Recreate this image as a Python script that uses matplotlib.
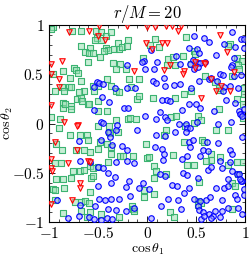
import matplotlib
matplotlib.use("Agg")
import matplotlib.pyplot as plt
import numpy as np

plt.rcParams['mathtext.fontset'] = 'cm'
plt.rcParams['font.family'] = 'DejaVu Serif'

# cos(theta1), cos(theta2) for three populations
red_x = [-0.49, -0.21, 0.00, 0.08, 0.19, 0.25, 0.34, -0.80, -0.59, -0.50, 0.31, 0.74, -0.43, -0.01, 0.15, 0.20,
         0.05, 0.81, -0.87, -0.98, -0.98, 0.58, 0.49, -0.14, 0.17, 0.23, 0.37, 0.36, 0.49, 0.59, 0.88, -0.90, 0.65,
         -0.90, 0.75, 0.70, 0.84, 0.55, -0.98, -0.85, -0.71, -0.72,
         -0.94, -0.72, -0.98, -0.81, -0.60, -0.58, -0.98, -0.97, -0.68, -0.69, -0.77, -0.98]
red_y = [0.99, 0.99, 0.98, 0.98, 0.99, 0.99, 0.99, 0.93, 0.94, 0.89, 0.94, 0.90, 0.85, 0.82, 0.82, 0.82,
         0.76, 0.73, 0.64, 0.60, 0.50, 0.61, 0.62, 0.53, 0.54, 0.59, 0.53, 0.50, 0.56, 0.60, 0.52, 0.45, 0.45,
         0.37, 0.38, 0.33, 0.33, 0.26, 0.19, 0.02, -0.01, -0.03,
         -0.19, -0.27, -0.36, -0.40, -0.38, -0.39, -0.45, -0.48, -0.60, -0.66, -0.78, -0.82]

green_x = [-0.96, -0.98, -0.77, -0.67, -0.52, -0.47, -0.42, -0.37, -0.51, -0.53, -0.47, -0.30, -0.20, 0.08, 0.39,
           -0.67, -0.58, -0.63, -0.42, -0.40, -0.34, -0.29, -0.26, -0.21, 0.03, 0.12, 0.48, 0.49, 0.84, 0.82,
           -0.59, -0.55, -0.48, -0.44, -0.60, -0.35, -0.28, -0.32, -0.22, -0.04, 0.21, 0.26, 0.36, 0.20, 0.28,
           0.45, 0.91, 0.97, 0.92, 0.93, -0.96, -0.86, -0.75, -0.73, -0.71, -0.79, -0.67, -0.41, -0.19, -0.08,
           0.59, 0.86, 0.69, -0.87, -0.80, -0.78, -0.64, -0.70, -0.55, -0.54, -0.50, -0.37, -0.32, -0.29, -0.17,
           -0.94, -0.85, -0.86, -0.86, -0.84, -0.78, -0.78, -0.72, -0.67, -0.66, -0.60, -0.59, -0.50, -0.10,
           -0.08, 0.06, 0.28, 0.37, 0.45, 0.74, 0.73, 0.91, 0.99, 0.99, 0.98, 0.73, 0.98, -0.98, -0.89, -0.50,
           -0.41, -0.32, -0.20, -0.18, -0.11, 0.24, 0.52, 0.29, 0.55, 0.48, -0.50, -0.39, 0.38,
           -0.90, -0.79, -0.68, -0.61, -0.39, -0.30, -0.38, 0.19, 0.17, 0.70, 0.82, -0.93, -0.60, -0.48, -0.41,
           -0.37, -0.01, 0.37, 0.56, 0.58, -0.87, -0.73, -0.64, -0.58, -0.50, -0.37, -0.28, -0.25, -0.15, 0.00,
           0.02, 0.26, 0.65, 0.74, 0.65, 0.60, -0.94, -0.88, -0.76, -0.69, -0.64, -0.58, -0.55, -0.50, -0.40,
           0.07, 0.09, 0.19, 0.40, 0.48, 0.82, 0.91, 0.98, -0.93, -0.86, -0.78, -0.57, -0.55, 0.07, 0.53, 0.86,
           0.89, 0.92, -0.96, -0.85, -0.94, -0.58, -0.03, 0.07, -0.03, -0.94, -0.74, -0.67, -0.63, -0.59, -0.16,
           -0.15, -0.13, 0.23, 0.52, 0.55, -0.86, -0.67, -0.58, -0.47, -0.29, -0.61, 0.27, 0.86, 0.52]
green_y = [0.98, 0.96, 0.94, 0.94, 0.94, 0.93, 0.89, 0.93, 0.87, 0.85, 0.85, 0.82, 0.85, 0.86, 0.88,
           0.79, 0.77, 0.73, 0.77, 0.75, 0.76, 0.76, 0.78, 0.79, 0.80, 0.78, 0.74, 0.71, 0.81, 0.79,
           0.72, 0.72, 0.68, 0.74, 0.63, 0.61, 0.60, 0.55, 0.55, 0.67, 0.66, 0.68, 0.69, 0.59, 0.59,
           0.60, 0.67, 0.64, 0.59, 0.55, 0.50, 0.53, 0.56, 0.54, 0.51, 0.46, 0.43, 0.45, 0.45, 0.45,
           0.48, 0.48, 0.42, 0.37, 0.37, 0.37, 0.33, 0.32, 0.38, 0.33, 0.38, 0.38, 0.33, 0.32, 0.37,
           0.33, 0.33, 0.21, 0.16, 0.20, 0.18, 0.15, 0.25, 0.26, 0.23, 0.20, 0.20, 0.23, 0.25,
           0.28, 0.26, 0.26, 0.30, 0.33, 0.34, 0.36, 0.25, 0.36, 0.30, 0.20, 0.15, 0.06, 0.07, 0.05, 0.13,
           0.13, 0.04, 0.05, 0.06, 0.05, 0.07, 0.08, 0.08, 0.04, 0.01, -0.03, -0.03, -0.03,
           -0.05, -0.12, -0.12, -0.12, -0.09, -0.09, -0.10, -0.07, -0.12, -0.07, -0.07, -0.21, -0.17, -0.19, -0.21,
           -0.24, -0.21, -0.19, -0.17, -0.19, -0.27, -0.27, -0.27, -0.29, -0.26, -0.31, -0.33, -0.33, -0.33, -0.35,
           -0.34, -0.32, -0.31, -0.34, -0.37, -0.38, -0.40, -0.40, -0.48, -0.48, -0.47, -0.43, -0.45, -0.44, -0.39,
           -0.43, -0.48, -0.51, -0.42, -0.42, -0.42, -0.39, -0.39, -0.56, -0.56, -0.55, -0.55, -0.53, -0.55, -0.59, -0.60,
           -0.63, -0.51, -0.67, -0.66, -0.68, -0.70, -0.68, -0.72, -0.75, -0.78, -0.80, -0.80, -0.79, -0.81, -0.84,
           -0.87, -0.89, -0.90, -0.79, -0.81, -0.91, -0.89, -0.90, -0.92, -0.95, -0.95, -0.95, -0.87, -0.83]

blue_x = [0.86, 0.48, 0.58, 0.63, 0.78, 0.89, 0.96, 0.99, 0.99, 0.43, 0.51, 0.53, 0.04, 0.47, 0.29, 0.33,
          0.70, 0.88, -0.03, -0.05, 0.10, 0.44, 0.52, 0.54, 0.59, 0.48, 0.52, -0.21, -0.02, 0.07, 0.86, 0.85,
          0.17, 0.06, 0.09, 0.53, 0.63, 0.65, 0.74, 0.77, 0.96, 0.88, 0.71, -0.51, -0.49, -0.45, -0.54, -0.33,
          -0.21, -0.12, 0.18, 0.27, 0.33, 0.45, 0.78, 0.84, 0.77, 0.92, -0.46, -0.39, 0.15, 0.20, 0.23, 0.43,
          0.50, 0.80, 0.89, 0.93, 0.96, 0.99, -0.54, -0.24, -0.20, -0.02, 0.13, 0.18, 0.35, 0.54, 0.68, 0.94,
          0.97, -0.47, -0.45, -0.31, 0.09, 0.20, 0.32, 0.39, 0.51, 0.72, 0.85,
          -0.40, -0.32, -0.10, 0.09, 0.18, 0.28, 0.41, 0.44, 0.39, 0.97, -0.70, -0.47, -0.38, -0.36, -0.26,
          -0.21, 0.08, 0.15, 0.17, 0.43, 0.44, 0.47, 0.57, 0.61, 0.62, 0.72, 0.84, 0.86, -0.69, -0.58, -0.50,
          -0.45, -0.32, -0.21, -0.14, 0.16, 0.35, 0.41, 0.54, 0.74, 0.76, 0.84, 0.86, 0.91, 0.93, 0.97, 0.96,
          -0.40, -0.19, -0.33, -0.04, 0.13, 0.18, 0.36, 0.40, 0.52, 0.62, 0.65, 0.82, 0.94, -0.50, -0.37, -0.22,
          -0.08, 0.02, 0.25, 0.30, 0.43, 0.70, 0.78, 0.82, 0.89, 0.99, -0.92, -0.49, -0.43, -0.37, -0.29, -0.18,
          0.21, 0.31, 0.37, 0.48, 0.54, 0.60, 0.64, 0.76, 0.91, 0.99, -0.69, -0.53, -0.40, -0.32, -0.22, -0.13,
          0.14, 0.34, 0.52, 0.53, 0.57, 0.63, 0.67, 0.69, 0.76, 0.82, 0.92, 0.97, -0.81, -0.70, -0.59, -0.54,
          -0.47, -0.41, -0.36, 0.04, 0.55, 0.58, 0.65, 0.74]
blue_y = [0.93, 0.89, 0.87, 0.83, 0.81, 0.78, 0.86, 0.86, 0.77, 0.77, 0.76, 0.72, 0.75, 0.65, 0.69, 0.60,
          0.70, 0.67, 0.64, 0.63, 0.62, 0.60, 0.61, 0.61, 0.62, 0.55, 0.57, 0.59, 0.55, 0.55, 0.59, 0.57,
          0.46, 0.43, 0.41, 0.43, 0.45, 0.46, 0.50, 0.49, 0.49, 0.48, 0.43, 0.42, 0.41, 0.40, 0.37, 0.36,
          0.36, 0.36, 0.38, 0.39, 0.40, 0.36, 0.37, 0.38, 0.33, 0.36, 0.27, 0.22, 0.24, 0.24, 0.23, 0.20,
          0.20, 0.24, 0.21, 0.13, 0.10, 0.15, 0.14, 0.16, 0.16, 0.08, 0.12, 0.07, 0.14, 0.16, 0.13, 0.10,
          0.08, 0.02, 0.01, -0.02, 0.05, 0.04, 0.00, 0.00, 0.02, 0.00, 0.02,
          -0.09, -0.07, -0.07, -0.12, -0.13, -0.09, -0.05, -0.05, -0.09, -0.14, -0.18, -0.17, -0.14, -0.22, -0.23,
          -0.27, -0.24, -0.26, -0.31, -0.19, -0.24, -0.17, -0.27, -0.19, -0.28, -0.20, -0.27, -0.31, -0.38, -0.39, -0.44,
          -0.45, -0.39, -0.38, -0.40, -0.37, -0.36, -0.33, -0.33, -0.38, -0.45, -0.39, -0.48, -0.51, -0.51, -0.58, -0.58,
          -0.50, -0.58, -0.54, -0.60, -0.51, -0.53, -0.50, -0.52, -0.55, -0.47, -0.44, -0.56, -0.56, -0.63, -0.60, -0.64,
          -0.66, -0.67, -0.62, -0.63, -0.65, -0.66, -0.66, -0.63, -0.73, -0.67, -0.78, -0.77, -0.78, -0.77, -0.77, -0.74,
          -0.77, -0.78, -0.71, -0.77, -0.79, -0.78, -0.75, -0.78, -0.77, -0.73, -0.83, -0.84, -0.87, -0.88, -0.89, -0.86,
          -0.84, -0.87, -0.84, -0.88, -0.90, -0.92, -0.94, -0.89, -0.89, -0.86, -0.86, -0.92, -0.96, -0.94, -0.95, -0.97,
          -0.98, -0.96, -0.97, -0.96, -0.97, -0.94, -0.96, -0.95]

major_ticks = [-1, -0.5, 0, 0.5, 1]
tick_labels = [r'$-1$', r'$-0.5$', r'$0$', r'$0.5$', r'$1$']

fig = plt.figure(figsize=(2.53, 2.56), dpi=100)
ax = fig.add_axes([0.194, 0.133, 0.776, 0.769])

ms = 16
ax.scatter(green_x, green_y, marker='s', s=ms, facecolors=(0.6, 0.88, 0.7, 0.55),
           edgecolors='#3cb371', linewidths=0.8, zorder=2)
ax.scatter(blue_x, blue_y, marker='o', s=ms, facecolors=(0.6, 0.6, 1.0, 0.55),
           edgecolors='#0000ff', linewidths=0.8, zorder=3)
ax.scatter(red_x, red_y, marker='v', s=ms, facecolors=(1.0, 0.65, 0.65, 0.55),
           edgecolors='#ff0000', linewidths=0.8, zorder=4)

ax.set_xlim(-1, 1)
ax.set_ylim(-1, 1)
ax.set_xticks(major_ticks)
ax.set_yticks(major_ticks)
ax.set_xticklabels(tick_labels)
ax.set_yticklabels(tick_labels)
ax.set_xticks(np.arange(-1, 1.001, 0.1), minor=True)
ax.set_yticks(np.arange(-1, 1.001, 0.1), minor=True)
ax.tick_params(which='both', direction='in', top=True, right=True, labelsize=11)
ax.tick_params(axis='x', which='major', pad=3)
ax.tick_params(which='major', length=4, width=0.6)
ax.tick_params(which='minor', length=2, width=0.5)
for sp in ax.spines.values():
    sp.set_linewidth(0.8)

ax.set_title(r'$r/M = 20$', fontsize=12, pad=4)
ax.set_xlabel(r'$\cos\theta_1$', fontsize=10)
ax.set_ylabel(r'$\cos\theta_2$', fontsize=10)
ax.xaxis.set_label_coords(0.5, -0.1)
ax.yaxis.set_label_coords(-0.175, 0.5)

fig.savefig('out.png', dpi=100)
